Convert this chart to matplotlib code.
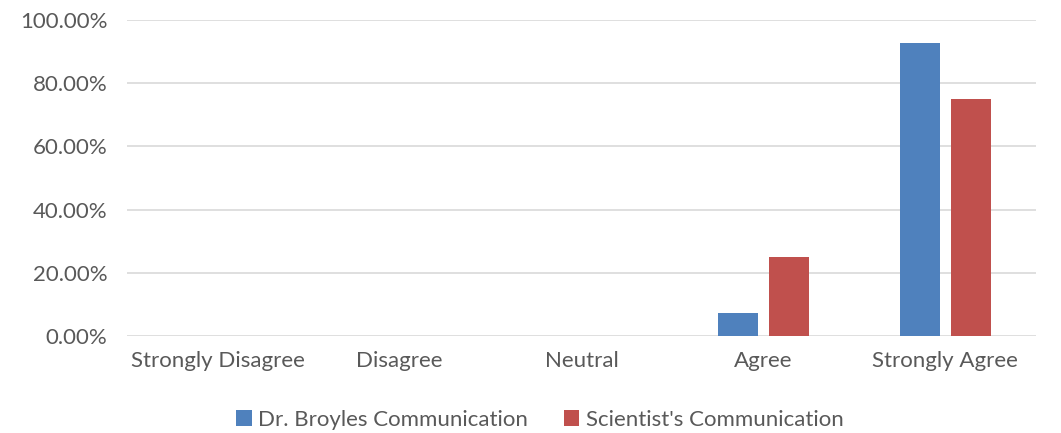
import matplotlib.pyplot as plt
import numpy as np

categories = ["Strongly Disagree", "Disagree", "Neutral", "Agree", "Strongly Agree"]
broyles = [0, 0, 0, 7.14, 92.86]
scientist = [0, 0, 0, 25.0, 75.0]
series_names = ["Dr. Broyles Communication", "Scientist's Communication"]
colors = ["#4f81bd", "#c0504d"]
yticks = [0, 20, 40, 60, 80, 100]

plt.rcParams["font.family"] = ["Lato", "DejaVu Sans"]

fig = plt.figure(figsize=(10.61, 4.33), dpi=100)
ax = fig.add_axes([127 / 1061, 1 - 336 / 433, (1036 - 127) / 1061, (336 - 20) / 433])

x = np.arange(len(categories))
w = 0.22
ax.bar(x - 0.14, broyles, w, color=colors[0], label=series_names[0], zorder=3)
ax.bar(x + 0.14, scientist, w, color=colors[1], label=series_names[1], zorder=3)

ax.set_xlim(-0.5, len(categories) - 0.5)
ax.set_ylim(0, 100)
ax.set_yticks(yticks)
ax.set_yticklabels([f"{v:.2f}%" for v in yticks])
ax.set_xticks(x)
ax.set_xticklabels(categories)
ax.yaxis.grid(True, color="#d9d9d9", linewidth=1.2, zorder=0)
ax.set_axisbelow(True)
for s in ax.spines.values():
    s.set_visible(False)
ax.tick_params(axis="both", length=0, labelsize=16, colors="#595959")
ax.tick_params(axis="x", pad=11)
ax.tick_params(axis="y", pad=14)

fig.legend(loc="center", bbox_to_anchor=(540 / 1061, 1 - 420 / 433), ncol=2,
           frameon=False, fontsize=16, labelcolor="#595959", handlelength=0.7,
           handleheight=0.7, handletextpad=0.3, columnspacing=1.6)

fig.savefig("out.png", dpi=100)
